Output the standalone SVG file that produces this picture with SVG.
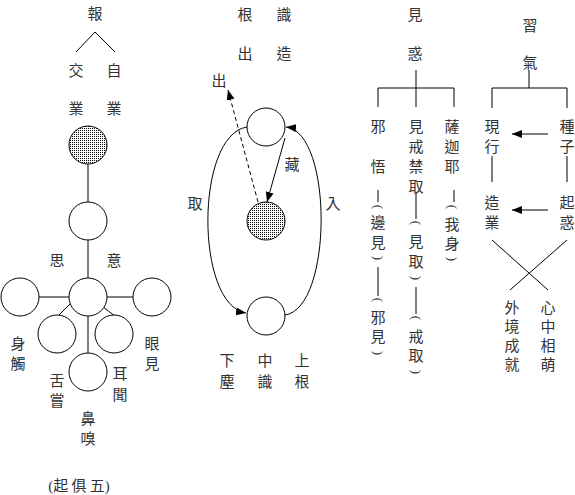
<svg xmlns="http://www.w3.org/2000/svg" width="575" height="495" viewBox="0 0 575 495">
<style>
text{font-family:"Noto Sans CJK TC","Noto Sans CJK SC",sans-serif;font-size:15px;fill:#333;text-anchor:middle}
.l{stroke:#000;stroke-width:1;fill:none}
.c{stroke:#000;stroke-width:1;fill:#fff}
.s{stroke:#000;stroke-width:1;fill:url(#dots)}
.lat{font-family:"Liberation Serif",serif}
.p{font-family:"Liberation Serif",serif;font-size:13px;dominant-baseline:central}
</style>
<defs>
<pattern id="dots" width="2" height="2" patternUnits="userSpaceOnUse">
<rect width="2" height="2" fill="#fff"/>
<rect width="1" height="1" fill="#000"/>
</pattern>
<marker id="ah" viewBox="0 0 10 8" refX="10" refY="4" markerWidth="10" markerHeight="8" markerUnits="userSpaceOnUse" orient="auto">
<path d="M0,0 L10,4 L0,8 Z" fill="#000"/>
</marker>
</defs>

<g id="connectors">
<path class="l" d="M76,52 L95,32 L115,52"/>
<line class="l" x1="88" y1="164" x2="88" y2="202"/>
<line class="l" x1="88" y1="240" x2="88" y2="278"/>
<line class="l" x1="39" y1="297" x2="69" y2="297"/>
<line class="l" x1="107" y1="297" x2="133" y2="297"/>
<line class="l" x1="70" y1="304" x2="58" y2="316"/>
<line class="l" x1="103" y1="307" x2="115" y2="316"/>
<line class="l" x1="88" y1="316" x2="88" y2="353"/>
<line class="l" x1="258" y1="202" x2="228" y2="90" stroke-dasharray="4,3" marker-end="url(#ah)"/>
<line class="l" x1="285" y1="138" x2="267" y2="202" marker-end="url(#ah)"/>
<path class="l" d="M247,127 C195,135 195,305 246,313" marker-end="url(#ah)"/>
<path class="l" d="M285,315 C333,308 333,132 286,127" marker-end="url(#ah)"/>
<line class="l" x1="416" y1="70" x2="416" y2="107"/>
<path class="l" d="M378,107 L378,88 L454,88 L454,107"/>
<line class="l" x1="378" y1="190" x2="378" y2="202"/>
<line class="l" x1="416" y1="193" x2="416" y2="219"/>
<line class="l" x1="454" y1="190" x2="454" y2="202"/>
<line class="l" x1="378" y1="267" x2="378" y2="296"/>
<line class="l" x1="416" y1="287" x2="416" y2="314"/>
<line class="l" x1="529" y1="70" x2="529" y2="88"/>
<path class="l" d="M492,108 L492,88 L567,88 L567,108"/>
<line class="l" x1="548" y1="134" x2="512" y2="134" marker-end="url(#ah)"/>
<line class="l" x1="492" y1="156" x2="492" y2="182"/>
<line class="l" x1="567" y1="156" x2="567" y2="182"/>
<line class="l" x1="548" y1="210" x2="512" y2="210" marker-end="url(#ah)"/>
<line class="l" x1="492" y1="240" x2="548" y2="290"/>
<line class="l" x1="567" y1="240" x2="510" y2="290"/>
</g>

<g id="left-group">
<text x="95" y="19">報</text>
<text x="76" y="76">交</text>
<text x="114" y="76">自</text>
<text x="76" y="114">業</text>
<text x="114" y="114">業</text>
<circle id="n-shaded1" class="s" cx="88" cy="145" r="19"/>
<circle id="n-yi" class="c" cx="88" cy="221" r="19"/>
<text x="57" y="266">思</text>
<text x="114" y="266">意</text>
<circle id="n-center" class="c" cx="88" cy="297" r="19"/>
<circle id="n-leftc" class="c" cx="20" cy="297" r="19"/>
<circle id="n-rightc" class="c" cx="152" cy="297" r="19"/>
<circle id="n-ll" class="c" cx="57" cy="334" r="19"/>
<circle id="n-lr" class="c" cx="114" cy="334" r="19"/>
<circle id="n-bot" class="c" cx="88" cy="372" r="19"/>
<text x="18" y="349">身</text>
<text x="18" y="369">觸</text>
<text x="57" y="386">舌</text>
<text x="57" y="406">嘗</text>
<text x="120" y="379">耳</text>
<text x="120" y="400">聞</text>
<text x="152" y="349">眼</text>
<text x="152" y="369">見</text>
<text x="88" y="424">鼻</text>
<text x="88" y="444">嗅</text>
<text x="79" y="491"><tspan class="lat">(</tspan>起 俱 五<tspan class="lat">)</tspan></text>
</g>

<g id="middle-group">
<text x="245" y="20">根</text>
<text x="284" y="20">識</text>
<text x="245" y="59">出</text>
<text x="284" y="59">造</text>
<text x="219" y="86">出</text>
<circle id="n-top" class="c" cx="266" cy="127" r="19"/>
<circle id="n-shaded2" class="s" cx="266" cy="221" r="19"/>
<circle id="n-bottom" class="c" cx="266" cy="316" r="19"/>
<text x="292" y="170">藏</text>
<text x="195" y="209">取</text>
<text x="333" y="209">入</text>
<text x="227" y="366">下</text>
<text x="227" y="387">塵</text>
<text x="265" y="366">中</text>
<text x="265" y="387">識</text>
<text x="302" y="366">上</text>
<text x="302" y="387">根</text>
</g>

<g id="jianhuo-group">
<text x="415" y="20">見</text>
<text x="415" y="59">惑</text>
<text x="378" y="132">邪</text>
<text x="378" y="172">悟</text>
<text x="416" y="132">見</text>
<text x="416" y="152">戒</text>
<text x="416" y="172">禁</text>
<text x="416" y="192">取</text>
<text x="452" y="132">薩</text>
<text x="452" y="152">迦</text>
<text x="452" y="172">耶</text>
<text class="p" transform="translate(378,207) rotate(90)">(</text>
<text x="378" y="228">邊</text>
<text x="378" y="248">見</text>
<text class="p" transform="translate(378,258) rotate(90)">)</text>
<text class="p" transform="translate(378,300) rotate(90)">(</text>
<text x="378" y="323">邪</text>
<text x="378" y="342">見</text>
<text class="p" transform="translate(378,353) rotate(90)">)</text>
<text class="p" transform="translate(416,223) rotate(90)">(</text>
<text x="416" y="247">見</text>
<text x="416" y="267">取</text>
<text class="p" transform="translate(416,278) rotate(90)">)</text>
<text class="p" transform="translate(416,318) rotate(90)">(</text>
<text x="416" y="342">戒</text>
<text x="416" y="361">取</text>
<text class="p" transform="translate(416,372) rotate(90)">)</text>
<text class="p" transform="translate(452,207) rotate(90)">(</text>
<text x="452" y="230">我</text>
<text x="452" y="249">身</text>
<text class="p" transform="translate(452,259) rotate(90)">)</text>
</g>

<g id="xiqi-group">
<text x="530" y="31">習</text>
<text x="530" y="68">氣</text>
<text x="492" y="132">現</text>
<text x="492" y="152">行</text>
<text x="567" y="132">種</text>
<text x="567" y="152">子</text>
<text x="492" y="208">造</text>
<text x="492" y="228">業</text>
<text x="567" y="208">起</text>
<text x="567" y="228">惑</text>
<text x="512" y="313">外</text>
<text x="512" y="332">境</text>
<text x="512" y="351">成</text>
<text x="512" y="370">就</text>
<text x="548" y="313">心</text>
<text x="548" y="332">中</text>
<text x="548" y="351">相</text>
<text x="548" y="370">萌</text>
</g>
</svg>
